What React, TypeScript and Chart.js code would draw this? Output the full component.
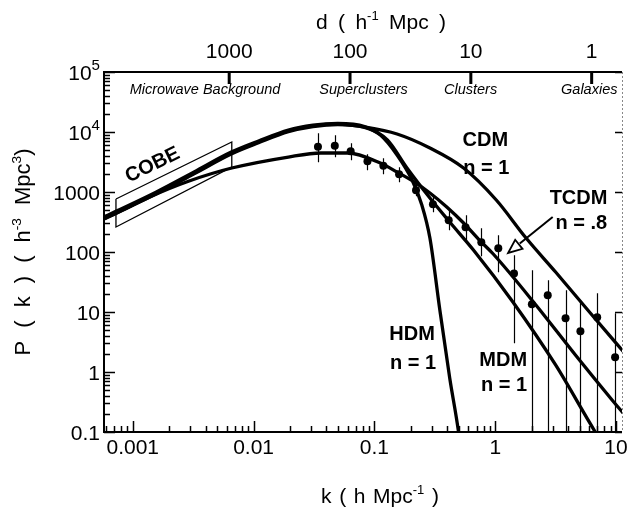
import React, { useEffect, useRef } from 'react';
import { Chart, registerables } from 'chart.js';

Chart.register(...registerables);

const FAMILY = '"Liberation Sans", Arial, Helvetica, sans-serif';

// axis ranges
const kMin = 0.000578;
const kMax = 11.2;
const pMin = 0.1;
const pMax = 100000;

// tick labels
const xTickValues = [0.001, 0.01, 0.1, 1, 10];
const xTickLabels = ['0.001', '0.01', '0.1', '1', '10'];
const dTickValues = [1000, 100, 10, 1];
const dTickLabels = ['1000', '100', '10', '1'];
const yTickValues = [100000, 10000, 1000, 100, 10, 1, 0.1];
const yTickLabels = ['10^5', '10^4', '1000', '100', '10', '1', '0.1'];

// model curves (k in h/Mpc, P in h^-3 Mpc^3)
const cdmK = [0.000578, 0.000739, 0.00157, 0.00322, 0.0066, 0.011, 0.0194, 0.031, 0.0497, 0.0828, 0.154, 0.288, 0.547, 1.02, 1.8, 3.16, 6.12, 11.6];
const cdmP = [369, 464, 962, 2070, 4470, 6810, 10400, 12600, 13600, 12100, 9260, 5410, 2510, 736, 171, 46.4, 9.62, 2.15];

const tcdmK = [0.000578, 0.000739, 0.00138, 0.00293, 0.0066, 0.0194, 0.0361, 0.0601, 0.112, 0.154, 0.213, 0.288, 0.397, 0.547, 0.739, 0.963, 2.17, 4.61, 9.27, 11.6];
const tcdmP = [355, 447, 826, 1525, 2510, 3830, 4470, 4470, 3040, 2150, 1470, 962, 562, 304, 158, 92.6, 13.1, 1.92, 0.342, 0.2];

const mdmK = [0.000578, 0.000739, 0.00157, 0.00322, 0.0066, 0.011, 0.0194, 0.031, 0.0497, 0.0828, 0.128, 0.186, 0.288, 0.42, 0.66, 1.4, 3.16, 6.73, 8.93];
const mdmP = [385, 485, 1005, 2165, 4670, 7100, 10800, 13000, 13900, 12300, 7360, 2510, 794, 316, 108, 14.7, 1.31, 0.1, 0.0414];

const hdmK = [0.000578, 0.000739, 0.00157, 0.00322, 0.0066, 0.011, 0.0194, 0.031, 0.0497, 0.0828, 0.112, 0.154, 0.205, 0.247, 0.288, 0.348, 0.42, 0.497, 0.536];
const hdmP = [358, 450, 930, 2010, 4340, 6610, 10100, 12300, 13300, 11900, 8910, 4140, 1585, 607, 171, 10.8, 0.794, 0.1, 0.0282];

// observed power spectrum with error bars
const dataK = [0.0341, 0.047, 0.0636, 0.0876, 0.1186, 0.16, 0.221, 0.305, 0.412, 0.568, 0.767, 1.06, 1.43, 2.01, 2.72, 3.82, 5.07, 6.98, 9.82];
const dataP = [5670, 5890, 4770, 3250, 2730, 1970, 1070, 624, 338, 258, 145, 115, 44, 13.4, 19, 7.85, 4.77, 8.16, 1.76];
const dataHi = [9510, 8810, 6480, 4250, 3650, 2580, 1400, 848, 495, 409, 248, 190, 88, 49.5, 33.8, 23, 15.7, 20.5, 9.5];
const dataLo = [3126, 3790, 3380, 2300, 1970, 1450, 848, 459, 230, 157, 84.8, 45.9, 3.0, 0.01, 0.01, 0.01, 0.01, 0.01, 0.01];

// COBE box
const cobeK = [0.000726, 0.0066, 0.0066, 0.000726, 0.000726];
const cobeP = [764, 6810, 2610, 261, 764];
const cobeLabelK = 0.00146;
const cobeLabelP = 2818;

// model labels
const modelLabels = ['CDM', 'n = 1', 'TCDM', 'n = .8', 'HDM', 'n = 1', 'MDM', 'n = 1'];
const modelLabelK = [0.828, 0.843, 4.89, 5.16, 0.2048, 0.209, 1.163, 1.185];
const modelLabelP = [7360, 2512, 794, 304, 4.14, 1.41, 1.585, 0.607];

// scale labels along top
const scaleLabels = ['Microwave Background', 'Superclusters', 'Clusters', 'Galaxies'];
const scaleLabelK = [0.00396, 0.0813, 0.625, 6.0];
const scaleLabelP = 50000;

// arrow for TCDM
const arrowK = [2.988, 1.278];
const arrowP = [383, 96.3];

type Part = { t: string; sup?: boolean };

function drawRich(
  ctx: CanvasRenderingContext2D,
  parts: Part[],
  x: number,
  y: number,
  opts: { size: number; align: 'left' | 'center' | 'right'; weight?: string; supScale?: number; supRise?: number; targetWidth?: number }
) {
  const { size, align } = opts;
  const supScale = opts.supScale ?? 0.62;
  const supRise = opts.supRise ?? 0.42;
  const weight = opts.weight ?? 'normal';
  const layout = (extra: number) => {
    const items: { w: string; x: number; s: number; dy: number }[] = [];
    let total = 0;
    let spaces = 0;
    for (const p of parts) {
      const s = p.sup ? size * supScale : size;
      ctx.font = `${weight} ${s}px ${FAMILY}`;
      const spW = ctx.measureText(' ').width;
      const words = p.t.split(' ');
      words.forEach((wd, i) => {
        if (i > 0) {
          total += spW + extra;
          spaces++;
        }
        if (wd) {
          items.push({ w: wd, x: total, s, dy: p.sup ? -size * supRise : 0 });
          total += ctx.measureText(wd).width;
        }
      });
    }
    return { items, total, spaces };
  };
  let L = layout(0);
  if (opts.targetWidth && L.spaces > 0) {
    L = layout(Math.max(0, (opts.targetWidth - L.total) / L.spaces));
  }
  const x0 = align === 'center' ? x - L.total / 2 : align === 'right' ? x - L.total : x;
  ctx.textAlign = 'left';
  ctx.textBaseline = 'alphabetic';
  for (const it of L.items) {
    ctx.font = `${weight} ${it.s}px ${FAMILY}`;
    ctx.fillText(it.w, x0 + it.x, y + it.dy);
  }
}

const errorBarPlugin = {
  id: 'errorBars',
  beforeDatasetsDraw(chart: any) {
    const { ctx, chartArea: a } = chart;
    const xs = chart.scales.x;
    const ys = chart.scales.y;
    ctx.save();
    ctx.beginPath();
    ctx.rect(a.left, a.top, a.right - a.left, a.bottom - a.top);
    ctx.clip();
    ctx.strokeStyle = '#000';
    ctx.lineWidth = 1.2;
    ctx.beginPath();
    dataK.forEach((k, i) => {
      const x = Math.round(xs.getPixelForValue(k)) + 0.5;
      const y1 = ys.getPixelForValue(dataHi[i]);
      const y2 = ys.getPixelForValue(Math.max(dataLo[i], 0.01));
      ctx.moveTo(x, y1);
      ctx.lineTo(x, y2);
    });
    ctx.stroke();
    ctx.restore();
  },
};

const decorPlugin = {
  id: 'decor',
  afterDraw(chart: any) {
    const { ctx, chartArea: a } = chart;
    const xs = chart.scales.x;
    const ys = chart.scales.y;
    const ds = chart.scales.x2;
    ctx.save();
    ctx.fillStyle = '#000';
    ctx.strokeStyle = '#000';

    // frame
    ctx.lineWidth = 2;
    ctx.beginPath();
    ctx.moveTo(a.left - 1, a.top);
    ctx.lineTo(a.right, a.top);
    ctx.moveTo(a.left, a.top);
    ctx.lineTo(a.left, a.bottom);
    ctx.moveTo(a.left - 1, a.bottom);
    ctx.lineTo(a.right, a.bottom);
    ctx.stroke();

    // right border (dashed)
    ctx.save();
    ctx.setLineDash([2, 2]);
    ctx.strokeStyle = '#888';
    ctx.lineWidth = 1;
    ctx.beginPath();
    ctx.moveTo(a.right + 0.5, a.top);
    ctx.lineTo(a.right + 0.5, a.bottom);
    ctx.stroke();
    ctx.restore();

    // inward ticks
    ctx.lineWidth = 1.5;
    ctx.beginPath();
    for (let e = -1; e <= 5; e++) {
      for (let m = 1; m <= 9; m++) {
        const v = m * Math.pow(10, e);
        if (v > pMax * 1.0001) continue;
        const y = Math.round(ys.getPixelForValue(v)) + 0.5;
        const len = m === 1 ? 11 : 6;
        ctx.moveTo(a.left, y);
        ctx.lineTo(a.left + len, y);
        if (m === 1) {
          ctx.moveTo(a.right, y);
          ctx.lineTo(a.right - 7, y);
        }
      }
    }
    for (let e = -4; e <= 1; e++) {
      for (let m = 1; m <= 9; m++) {
        const v = m * Math.pow(10, e);
        if (v < kMin || v > kMax) continue;
        const x = Math.round(xs.getPixelForValue(v)) + 0.5;
        const len = m === 1 ? 11 : 6;
        ctx.moveTo(x, a.bottom);
        ctx.lineTo(x, a.bottom - len);
      }
    }
    ctx.stroke();
    ctx.lineWidth = 3;
    ctx.beginPath();
    dTickValues.forEach((d) => {
      const x = ds.getPixelForValue(d);
      ctx.moveTo(x, a.top);
      ctx.lineTo(x, a.top + 12);
    });
    ctx.stroke();

    // y tick labels
    yTickValues.forEach((v, i) => {
      const y = ys.getPixelForValue(v);
      const [base, sup] = yTickLabels[i].split('^');
      const parts: Part[] = sup ? [{ t: base }, { t: sup, sup: true }] : [{ t: base }];
      drawRich(ctx, parts, a.left - 4, y + 7.5, { size: 21, align: 'right', supScale: 0.72, supRise: 0.45 });
    });

    // axis titles
    drawRich(ctx, [{ t: 'd ( h' }, { t: '-1', sup: true }, { t: ' Mpc )' }], 381, 29, { size: 21, align: 'center', targetWidth: 130 });
    drawRich(ctx, [{ t: 'k ( h Mpc' }, { t: '-1', sup: true }, { t: ' )' }], 380, 503, { size: 21, align: 'center', targetWidth: 118 });
    ctx.save();
    ctx.translate(22, 252);
    ctx.rotate(-Math.PI / 2);
    drawRich(ctx, [{ t: 'P ( k ) ( h' }, { t: '-3', sup: true }, { t: ' Mpc' }, { t: '3', sup: true }, { t: ')' }], 0, 8, { size: 22, align: 'center', targetWidth: 207 });
    ctx.restore();

    // scale labels (italic)
    ctx.font = `italic 14.5px ${FAMILY}`;
    ctx.textAlign = 'center';
    ctx.textBaseline = 'middle';
    scaleLabels.forEach((s, i) => {
      ctx.fillText(s, xs.getPixelForValue(scaleLabelK[i]), ys.getPixelForValue(scaleLabelP));
    });

    // model labels
    ctx.font = `bold 20px ${FAMILY}`;
    modelLabels.forEach((s, i) => {
      ctx.fillText(s, xs.getPixelForValue(modelLabelK[i]), ys.getPixelForValue(modelLabelP[i]));
    });

    // COBE label
    ctx.save();
    ctx.translate(xs.getPixelForValue(cobeLabelK), ys.getPixelForValue(cobeLabelP));
    ctx.rotate(-26 * Math.PI / 180);
    ctx.fillText('COBE', 0, 0);
    ctx.restore();

    // arrow
    const x1 = xs.getPixelForValue(arrowK[0]);
    const y1 = ys.getPixelForValue(arrowP[0]);
    const x2 = xs.getPixelForValue(arrowK[1]);
    const y2 = ys.getPixelForValue(arrowP[1]);
    const ang = Math.atan2(y2 - y1, x2 - x1);
    const hl = 15;
    const hx = x2 - hl * Math.cos(ang);
    const hy = y2 - hl * Math.sin(ang);
    ctx.lineWidth = 2;
    ctx.beginPath();
    ctx.moveTo(x1, y1);
    ctx.lineTo(hx, hy);
    ctx.stroke();
    ctx.lineWidth = 1.8;
    ctx.beginPath();
    ctx.moveTo(x2, y2);
    ctx.lineTo(x2 - hl * Math.cos(ang - 0.4), y2 - hl * Math.sin(ang - 0.4));
    ctx.lineTo(x2 - hl * Math.cos(ang + 0.4), y2 - hl * Math.sin(ang + 0.4));
    ctx.closePath();
    ctx.fillStyle = '#fff';
    ctx.fill();
    ctx.stroke();

    ctx.restore();
  },
};

function matchLabel(values: number[], labels: string[], v: number) {
  const i = values.findIndex((t) => Math.abs(v - t) / t < 1e-6);
  return i >= 0 ? labels[i] : '';
}

export default function App() {
  const ref = useRef<HTMLCanvasElement>(null);

  useEffect(() => {
    document.body.style.margin = '0';
    const canvas = ref.current;
    if (!canvas) return;
    const pts = (ks: number[], ps: number[]) => ks.map((k, i) => ({ x: k, y: ps[i] }));
    const curve = (label: string, ks: number[], ps: number[]) => ({
      label,
      data: pts(ks, ps),
      showLine: true,
      borderColor: '#000',
      backgroundColor: '#000',
      borderWidth: 3.3,
      pointRadius: 0,
      fill: false,
      cubicInterpolationMode: 'monotone' as const,
    });
    const chart = new Chart(canvas, {
      type: 'scatter',
      data: {
        datasets: [
          curve('CDM n = 1', cdmK, cdmP),
          curve('TCDM n = .8', tcdmK, tcdmP),
          curve('MDM n = 1', mdmK, mdmP),
          curve('HDM n = 1', hdmK, hdmP),
          {
            label: 'COBE',
            data: pts(cobeK, cobeP),
            showLine: true,
            borderColor: '#000',
            borderWidth: 1.3,
            pointRadius: 0,
            tension: 0,
          },
          {
            label: 'Data',
            data: pts(dataK, dataP),
            showLine: false,
            pointRadius: 4,
            backgroundColor: '#000',
            borderColor: '#000',
            borderWidth: 0,
          },
        ],
      },
      options: {
        responsive: false,
        animation: false,
        events: [],
        layout: { padding: { left: 104, right: 2, top: 0, bottom: 0 } },
        plugins: { legend: { display: false }, tooltip: { enabled: false } },
        scales: {
          x: {
            type: 'logarithmic',
            position: 'bottom',
            min: kMin,
            max: kMax,
            grid: { display: false, drawTicks: false },
            border: { display: false },
            ticks: {
              autoSkip: false,
              maxRotation: 0,
              padding: 4,
              color: '#000',
              font: { family: FAMILY, size: 21 },
              callback: (v: any) => matchLabel(xTickValues, xTickLabels, Number(v)),
            },
            afterFit: (s: any) => {
              s.height = 84;
            },
          },
          x2: {
            type: 'logarithmic',
            axis: 'x',
            position: 'top',
            reverse: true,
            min: (2 * Math.PI) / kMax,
            max: (2 * Math.PI) / kMin,
            grid: { display: false, drawTicks: false },
            border: { display: false },
            ticks: {
              autoSkip: false,
              maxRotation: 0,
              padding: 7,
              color: '#000',
              font: { family: FAMILY, size: 21 },
              callback: (v: any) => matchLabel(dTickValues, dTickLabels, Number(v)),
            },
            afterFit: (s: any) => {
              s.height = 72;
            },
          },
          y: {
            type: 'logarithmic',
            display: false,
            min: pMin,
            max: pMax,
          },
        },
      } as any,
      plugins: [errorBarPlugin, decorPlugin],
    });
    return () => chart.destroy();
  }, []);

  return (
    <div style={{ width: 629, height: 516 }}>
      <canvas ref={ref} width={629} height={516} style={{ display: 'block', width: 629, height: 516 }} />
    </div>
  );
}
